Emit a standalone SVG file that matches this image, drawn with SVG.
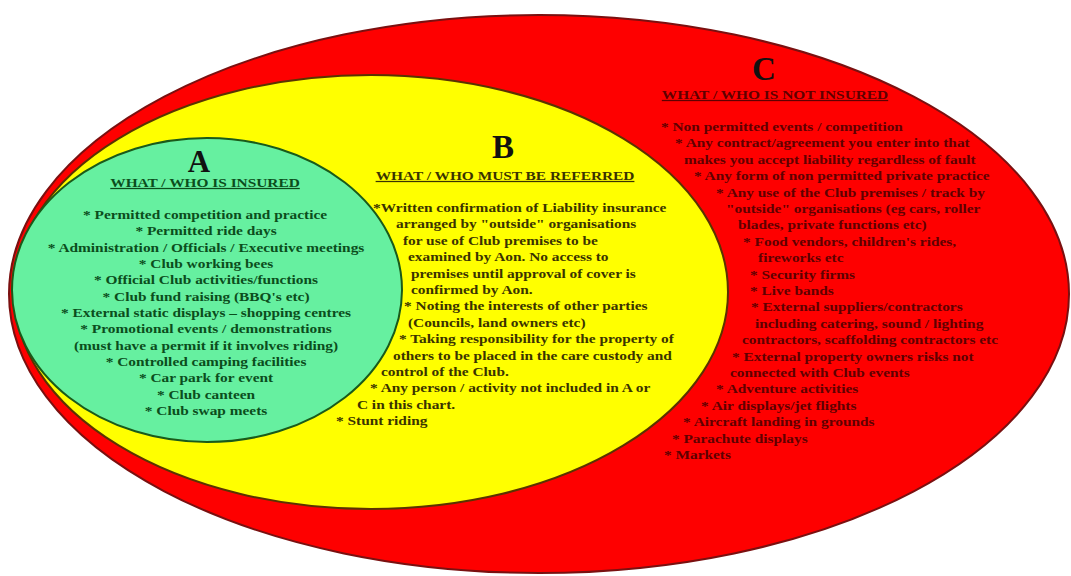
<svg xmlns="http://www.w3.org/2000/svg" width="1071" height="576" viewBox="0 0 1071 576">
<style>
text{font-family:"Liberation Serif","Times New Roman",serif;font-weight:bold}
.big{font-size:33px;fill:#111;text-anchor:middle}
.hd{font-size:12.5px;text-decoration:underline;text-anchor:middle}
.t{font-size:12.5px}
.a{fill:#0b4d1c}
.b{fill:#3a3300}
.c{fill:#5e0000}
.mid{text-anchor:middle}
</style>
<rect width="1071" height="576" fill="#ffffff"/>
<g id="nodeC">
<ellipse cx="539" cy="294" rx="530" ry="279" fill="#fe0000" stroke="#7a1010" stroke-width="2"/>
<text class="big" x="764" y="80">C</text>
<g transform="scale(1.23,1)">
<text class="hd c" x="630.1" y="99">WHAT / WHO IS NOT INSURED</text>
<g class="t c">
<text x="537.4" y="131">* Non permitted events / competition</text>
<text x="548.8" y="147.4">* Any contract/agreement you enter into that</text>
<text x="556.1" y="163.8">makes you accept liability regardless of fault</text>
<text x="564.2" y="180.2">* Any form of non permitted private practice</text>
<text x="582.1" y="196.6">* Any use of the Club premises / track by</text>
<text x="590.2" y="213">"outside" organisations (eg cars, roller</text>
<text x="600" y="229.4">blades, private functions etc)</text>
<text x="604.1" y="245.8">* Food vendors, children's rides,</text>
<text x="616.3" y="262.2">fireworks etc</text>
<text x="609.8" y="278.6">* Security firms</text>
<text x="609.8" y="295">* Live bands</text>
<text x="610.6" y="311.4">* External suppliers/contractors</text>
<text x="613.8" y="327.8">including catering, sound / lighting</text>
<text x="603.3" y="344.2">contractors, scaffolding contractors etc</text>
<text x="595.1" y="360.6">* External property owners risks not</text>
<text x="593.5" y="377">connected with Club events</text>
<text x="582.1" y="393.4">* Adventure activities</text>
<text x="569.9" y="409.8">* Air displays/jet flights</text>
<text x="555.3" y="426.2">* Aircraft landing in grounds</text>
<text x="546.3" y="442.6">* Parachute displays</text>
<text x="539.8" y="459">* Markets</text>
</g>
</g>
</g>
<g id="nodeB">
<ellipse cx="371" cy="292" rx="357" ry="217" fill="#ffff00" stroke="#5a3300" stroke-width="2"/>
<text class="big" x="503" y="158">B</text>
<g transform="scale(1.23,1)">
<text class="hd b" x="410.6" y="180">WHAT / WHO MUST BE REFERRED</text>
<g class="t b">
<text x="303.3" y="212">*Written confirmation of Liability insurance</text>
<text x="322" y="228.4">arranged by "outside" organisations</text>
<text x="327.6" y="244.8">for use of Club premises to be</text>
<text x="331.7" y="261.2">examined by Aon. No access to</text>
<text x="334.1" y="277.6">premises until approval of cover is</text>
<text x="334.1" y="294">confirmed by Aon.</text>
<text x="328.5" y="310.4">* Noting the interests of other parties</text>
<text x="331.7" y="326.8">(Councils, land owners etc)</text>
<text x="324.4" y="343.2">* Taking responsibility for the property of</text>
<text x="319.5" y="359.6">others to be placed in the care custody and</text>
<text x="309.8" y="376">control of the Club.</text>
<text x="300.8" y="392.4">* Any person / activity not included in A or</text>
<text x="290.2" y="408.8">C in this chart.</text>
<text x="273.2" y="425.2">* Stunt riding</text>
</g>
</g>
</g>
<g id="nodeA">
<ellipse cx="207" cy="290" rx="195" ry="152" fill="#66f0a0" stroke="#1a5a1a" stroke-width="2"/>
<text class="big" x="199" y="172" style="font-size:31px">A</text>
<g transform="scale(1.23,1)">
<text class="hd a" x="166.7" y="187">WHAT / WHO IS INSURED</text>
<g class="t a mid">
<text x="166.7" y="219">* Permitted competition and practice</text>
<text x="167.5" y="235.3">* Permitted ride days</text>
<text x="167.5" y="251.7">* Administration / Officials / Executive  meetings</text>
<text x="167.5" y="268">* Club working bees</text>
<text x="167.5" y="284.3">* Official Club activities/functions</text>
<text x="167.5" y="300.7">* Club fund raising (BBQ's etc)</text>
<text x="167.5" y="317">* External static displays –  shopping centres</text>
<text x="167.5" y="333.3">* Promotional events / demonstrations</text>
<text x="167.5" y="349.7">(must have a permit if it involves riding)</text>
<text x="167.5" y="366">* Controlled camping facilities</text>
<text x="167.5" y="382.3">* Car park for event</text>
<text x="167.5" y="398.7">* Club canteen</text>
<text x="167.5" y="415">* Club swap meets</text>
</g>
</g>
</g>
<g id="connectors"/>
</svg>
